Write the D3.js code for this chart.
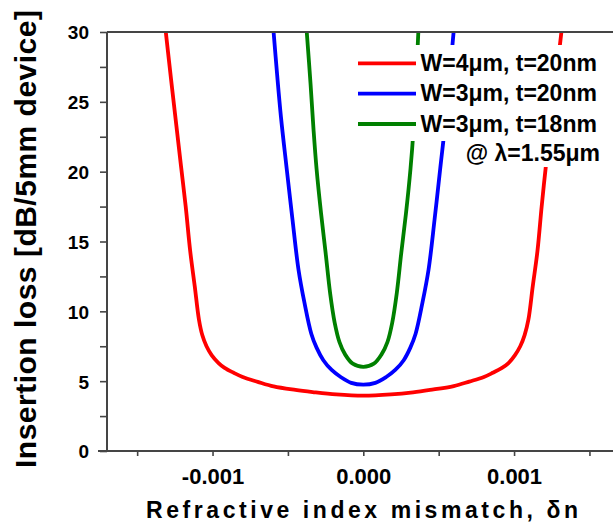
<!DOCTYPE html>
<html>
<head>
<meta charset="utf-8">
<script src="https://cdn.jsdelivr.net/npm/d3@7"></script>
<style>
  html, body { margin: 0; padding: 0; background: #fff; }
  svg { display: block; }
  text { font-family: "Liberation Sans", Arial, Helvetica, sans-serif; font-weight: bold; fill: #000; }
</style>
</head>
<body>
<svg id="chart" width="613" height="527"></svg>
<script>
// Insertion loss vs. refractive index mismatch, three waveguide geometries
const seriesNames = ["W=4\u03bcm, t=20nm", "W=3\u03bcm, t=20nm", "W=3\u03bcm, t=18nm"];
const seriesColors = ["#ff0000", "#0000ff", "#008000"];

// [δn, insertion loss dB]
const lossW4t20 = [
  [-0.001310, 30], [-0.001275, 26.6], [-0.001240, 23.3], [-0.001208, 20.3],
  [-0.001178, 17.5], [-0.001148, 14.3], [-0.001118, 11.8], [-0.001090, 9.4],
  [-0.001068, 8.3], [-0.001040, 7.5], [-0.001005, 6.85], [-0.000960, 6.3],
  [-0.000920, 5.95], [-0.000860, 5.6], [-0.000800, 5.3], [-0.000700, 4.95],
  [-0.000595, 4.62], [-0.000450, 4.37], [-0.000336, 4.22], [-0.000180, 4.05],
  [0.0, 3.96],
  [0.000184, 4.05], [0.000330, 4.2], [0.000443, 4.37], [0.000600, 4.65],
  [0.000703, 4.97], [0.000800, 5.3], [0.000859, 5.6], [0.000920, 5.95],
  [0.000963, 6.3], [0.001005, 6.85], [0.001041, 7.5], [0.001070, 8.3],
  [0.001095, 9.4], [0.001124, 11.8], [0.001155, 14.3], [0.001183, 17.5],
  [0.001210, 20.3], [0.001243, 23.3], [0.001278, 26.6], [0.001314, 30]
];
const lossW3t20 = [
  [-0.000595, 30], [-0.000572, 27.0], [-0.000546, 23.9], [-0.000508, 20.2],
  [-0.000470, 16.6], [-0.000430, 13.0], [-0.000390, 10.6], [-0.000345, 8.4],
  [-0.000310, 7.4], [-0.000265, 6.5], [-0.000210, 5.8], [-0.000150, 5.3],
  [-0.000080, 4.88], [0.0, 4.75],
  [0.000080, 4.88], [0.000152, 5.3], [0.000212, 5.8], [0.000268, 6.5],
  [0.000312, 7.4], [0.000347, 8.4], [0.000392, 10.6], [0.000433, 13.0],
  [0.000473, 16.6], [0.000510, 20.2], [0.000548, 23.9], [0.000574, 27.0],
  [0.000599, 30]
];
const lossW3t18 = [
  [-0.000375, 30], [-0.000350, 26.3], [-0.000330, 23.0], [-0.000310, 20.2],
  [-0.000280, 17.0], [-0.000250, 14.2], [-0.000220, 11.3], [-0.000190, 9.2],
  [-0.000158, 7.8], [-0.000120, 6.9], [-0.000070, 6.25], [0.0, 6.03],
  [0.000070, 6.25], [0.000120, 6.9], [0.000160, 7.8], [0.000192, 9.2],
  [0.000222, 11.3], [0.000252, 14.2], [0.000283, 17.0], [0.000313, 20.2],
  [0.000333, 23.0], [0.000348, 26.0], [0.000365, 30]
];
const seriesData = [lossW4t20, lossW3t20, lossW3t18];

const xMajorTicks = [-0.001, 0.0, 0.001];
const xMinorTicks = [-0.0015, -0.0005, 0.0005, 0.0015];
const yMajorTicks = [0, 5, 10, 15, 20, 25, 30];
const yMinorTicks = [2.5, 7.5, 12.5, 17.5, 22.5, 27.5];
const xTitle = "Refractive index mismatch, \u03b4n";
const yTitle = "Insertion loss [dB/5mm device]";
const noteText = "@ \u03bb=1.55\u03bcm";

const svg = d3.select("#chart");
const axisColor = "#454545";

const x = d3.scaleLinear().domain([-0.0017, 0.0017]).range([107, 619.6]);
const y = d3.scaleLinear().domain([0, 30]).range([451, 32]);

const line = d3.line()
  .x(d => x(d[0]))
  .y(d => y(d[1]))
  .curve(d3.curveCatmullRom.alpha(0.5));

// clip for the plotting area
svg.append("defs").append("clipPath").attr("id", "plotClip")
  .append("rect")
  .attr("x", x.range()[0]).attr("y", y(30))
  .attr("width", x.range()[1] - x.range()[0]).attr("height", y(0) - y(30));

// curves
const curves = svg.append("g").attr("clip-path", "url(#plotClip)");
seriesData.forEach((data, i) => {
  curves.append("path")
    .datum(data)
    .attr("d", line)
    .attr("fill", "none")
    .attr("stroke", seriesColors[i])
    .attr("stroke-width", 3.8)
    .attr("stroke-linejoin", "round");
});

// frame: top border
svg.append("line")
  .attr("x1", x.range()[0]).attr("x2", x.range()[1])
  .attr("y1", y(30)).attr("y2", y(30))
  .attr("stroke", axisColor).attr("stroke-width", 2);

// y axis
const yAxisG = svg.append("g").attr("transform", `translate(${x.range()[0]},0)`);
yAxisG.call(d3.axisLeft(y).tickValues(yMajorTicks).tickSize(7).tickPadding(11).tickFormat(d3.format("d")));
const yMinorG = svg.append("g").attr("transform", `translate(${x.range()[0]},0)`);
yMinorG.call(d3.axisLeft(y).tickValues(yMinorTicks).tickSize(7).tickFormat(""));
yMinorG.select(".domain").remove();

// x axis
const xAxisG = svg.append("g").attr("transform", `translate(0,${y(0)})`);
xAxisG.call(d3.axisBottom(x).tickValues(xMajorTicks).tickSize(5).tickPadding(11).tickFormat(d3.format(".3f")));
const xMinorG = svg.append("g").attr("transform", `translate(0,${y(0)})`);
xMinorG.call(d3.axisBottom(x).tickValues(xMinorTicks).tickSize(5).tickFormat(""));
xMinorG.select(".domain").remove();

[yAxisG, yMinorG, xAxisG, xMinorG].forEach(g => {
  g.selectAll(".domain").attr("stroke", axisColor).attr("stroke-width", 2);
  g.selectAll(".tick line").attr("stroke", axisColor).attr("stroke-width", 1.6);
});
yAxisG.selectAll(".domain").attr("d", `M0,${y(0)}V${y(30)}`);
xAxisG.selectAll(".domain").attr("d", `M${x.range()[0] - 9},0H${x.range()[1]}`);

yAxisG.selectAll(".tick text")
  .attr("font-family", null).attr("font-size", 19).attr("dy", "0.36em");
xAxisG.selectAll(".tick text")
  .attr("font-family", null).attr("font-size", 22).attr("dy", "0.75em");
// plain hyphen for the negative label
xAxisG.selectAll(".tick text").text(d => d3.format(".3f")(d).replace("\u2212", "-"));

// axis titles
svg.append("text")
  .attr("x", 362).attr("y", 518)
  .attr("text-anchor", "middle")
  .attr("font-size", 23)
  .attr("textLength", 432).attr("lengthAdjust", "spacing")
  .text(xTitle);

svg.append("text")
  .attr("transform", "translate(36,239) rotate(-90)")
  .attr("text-anchor", "middle")
  .attr("font-size", 30)
  .attr("textLength", 458).attr("lengthAdjust", "spacing")
  .text(yTitle);

// legend with white backing
const legend = svg.append("g");
legend.append("rect").attr("x", 352).attr("y", 45).attr("width", 270).attr("height", 96).attr("fill", "#fff");
legend.append("rect").attr("x", 462).attr("y", 140).attr("width", 160).attr("height", 27).attr("fill", "#fff");
const rowY = [63.3, 93.6, 124];
seriesNames.forEach((name, i) => {
  legend.append("line")
    .attr("x1", 358).attr("x2", 416)
    .attr("y1", rowY[i]).attr("y2", rowY[i])
    .attr("stroke", seriesColors[i]).attr("stroke-width", 3.8);
  legend.append("text")
    .attr("x", 420.5).attr("y", rowY[i] + 7.6)
    .attr("font-size", 23)
    .text(name);
});
legend.append("text")
  .attr("x", 600).attr("y", 161)
  .attr("text-anchor", "end")
  .attr("font-size", 23)
  .text(noteText);
</script>
</body>
</html>
